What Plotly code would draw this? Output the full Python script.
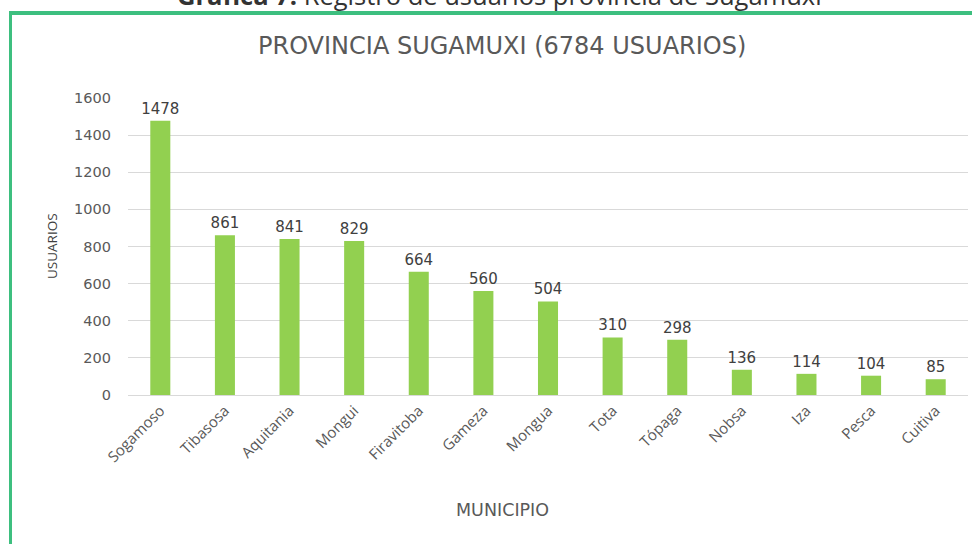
import plotly.graph_objects as go

municipios = ["Sogamoso", "Tibasosa", "Aquitania", "Mongui", "Firavitoba", "Gameza",
              "Mongua", "Tota", "Tópaga", "Nobsa", "Iza", "Pesca", "Cuitiva"]
usuarios = [1478, 861, 841, 829, 664, 560, 504, 310, 298, 136, 114, 104, 85]
y_ticks = [0, 200, 400, 600, 800, 1000, 1200, 1400, 1600]

W, H = 972, 544
L, R, T, B = 128, 4, 98, 149
pw, ph = W - L - R, H - T - B

def px(x):
    return (x - L) / pw

def py(y):
    return (H - B - y) / ph

fig = go.Figure(go.Bar(
    x=municipios, y=usuarios,
    marker=dict(color="#92D050", line=dict(width=0)),
    width=0.31,
    text=[str(v) for v in usuarios],
    textposition="outside",
    constraintext="none",
    textfont=dict(family="DejaVu Sans", size=15, color="#404040"),
    cliponaxis=False,
))

green = "#3DBF7F"
fig.update_layout(
    width=W, height=H,
    margin=dict(l=L, r=R, t=T, b=B, pad=0),
    paper_bgcolor="white", plot_bgcolor="white",
    showlegend=False,
    xaxis=dict(tickangle=-45, tickfont=dict(family="Open Sans", size=15, color="#595959"),
               showline=True, linecolor="#D9D9D9", linewidth=1, showgrid=False,
               ticks="", fixedrange=True),
    yaxis=dict(range=[0, 1600], tickvals=y_ticks,
               tickfont=dict(family="DejaVu Sans", size=14.5, color="#595959"),
               gridcolor="#D9D9D9", gridwidth=1, zeroline=False, showline=False,
               ticklabelstandoff=16),
    shapes=[
        dict(type="line", xref="paper", yref="paper", x0=px(9), x1=px(990),
             y0=py(13), y1=py(13), line=dict(color=green, width=4)),
        dict(type="line", xref="paper", yref="paper", x0=px(10.5), x1=px(10.5),
             y0=py(11), y1=py(560), line=dict(color=green, width=3)),
    ],
    annotations=[
        dict(text="<b>Gráfica 7.</b> Registro de usuarios provincia de Sugamuxi",
             xref="paper", yref="paper", x=px(499), y=py(-4.5), xanchor="center", yanchor="middle",
             showarrow=False, font=dict(family="Open Sans", size=25.5, color="#333333")),
        dict(text="PROVINCIA SUGAMUXI (6784 USUARIOS)", xref="paper", yref="paper",
             x=px(502), y=py(46), xanchor="center", yanchor="middle", showarrow=False,
             font=dict(family="DejaVu Sans", size=24, color="#595959")),
        dict(text="USUARIOS", xref="paper", yref="paper", x=px(52), y=py(246),
             xanchor="center", yanchor="middle", textangle=-90, showarrow=False,
             font=dict(family="Open Sans", size=13.5, color="#404040")),
        dict(text="MUNICIPIO", xref="paper", yref="paper", x=px(502), y=py(510),
             xanchor="center", yanchor="middle", showarrow=False,
             font=dict(family="DejaVu Sans", size=17.5, color="#595959")),
    ],
)

fig.write_html("out.html", config={"displayModeBar": False},
               post_script="document.body.style.margin='0';document.body.style.overflow='hidden';")
